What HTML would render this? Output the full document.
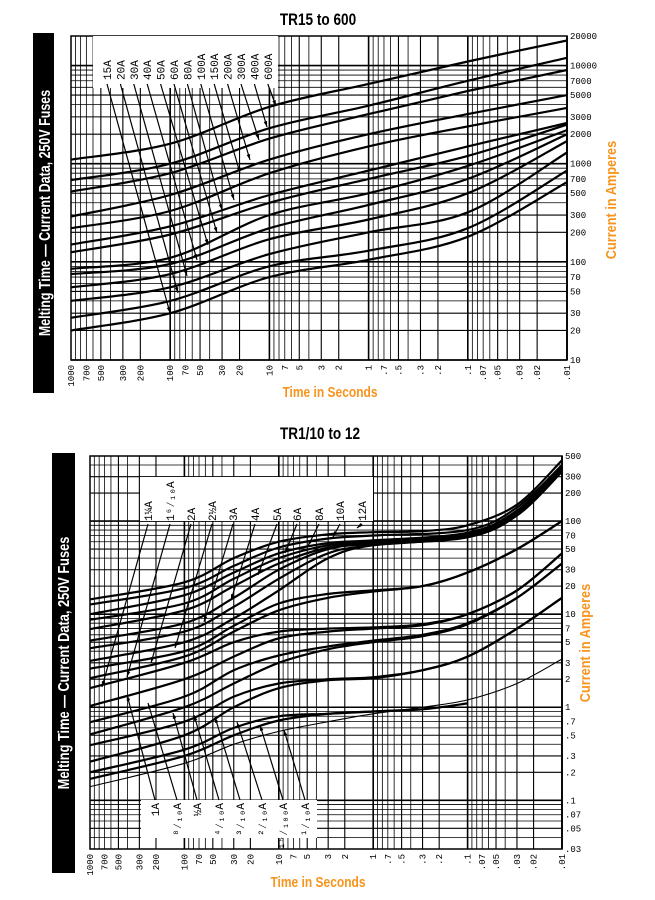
<!DOCTYPE html>
<html><head><meta charset="utf-8">
<style>
html,body{margin:0;padding:0;background:#fff;width:655px;height:900px;overflow:hidden}
svg{display:block}
.t{font-family:"Liberation Mono",monospace;font-size:9px;fill:#000}
.ttl{font-family:"Liberation Sans",sans-serif;font-weight:bold;font-size:17px;fill:#000}
.or{font-family:"Liberation Sans",sans-serif;font-weight:bold;font-size:15px;fill:#f7941d}
.bar{font-family:"Liberation Sans",sans-serif;font-weight:bold;font-size:16px;fill:#fff}
.lb{font-family:"Liberation Mono",monospace;font-size:11px;fill:#000}
</style></head>
<body>
<svg id="s" width="655" height="900" viewBox="0 0 655 900" xmlns="http://www.w3.org/2000/svg">
<text class="ttl" transform="translate(318 25) scale(0.8 1)" text-anchor="middle">TR15 to 600</text>
<rect x="33" y="33" width="21" height="360" fill="#000"/>
<text class="bar" transform="translate(50 213) rotate(-90) scale(0.78 1)" text-anchor="middle">Melting Time — Current Data, 250V Fuses</text>
<text class="or" transform="translate(330 397) scale(0.8 1)" text-anchor="middle">Time in Seconds</text>
<text class="or" transform="translate(616 200) rotate(-90) scale(0.85 1)" text-anchor="middle">Current in Amperes</text>

<text class="ttl" transform="translate(320 439) scale(0.8 1)" text-anchor="middle">TR1/10 to 12</text>
<rect x="52" y="453" width="23" height="420" fill="#000"/>
<text class="bar" transform="translate(69 663) rotate(-90) scale(0.8 1)" text-anchor="middle">Melting Time — Current Data, 250V Fuses</text>
<text class="or" transform="translate(318 887) scale(0.8 1)" text-anchor="middle">Time in Seconds</text>
<text class="or" transform="translate(590 643) rotate(-90) scale(0.85 1)" text-anchor="middle">Current in Amperes</text>
<g id="g"></g>
</svg>
<script>
(function(){
var NS="http://www.w3.org/2000/svg",G=document.getElementById("g");
function el(n,a,txt){var e=document.createElementNS(NS,n);for(var k in a)e.setAttribute(k,a[k]);if(txt!=null)e.textContent=txt;G.appendChild(e);return e;}
function L(v){return Math.log(v)/Math.LN10;}
function chart(c){
  var X=function(t){return c.x0+(3-L(t))*(c.x1-c.x0)/5;};
  var Y=function(i){return c.y0+(L(c.imax)-L(i))*(c.y1-c.y0)/(L(c.imax)-L(c.imin));};
  for(var d=-2;d<3;d++)for(var m=1;m<10;m++){var t=m*Math.pow(10,d);var x=X(t);
    el("line",{x1:x,y1:c.y0,x2:x,y2:c.y1,stroke:"#000","stroke-width":(m==1?1.6:m==2||m==3||m==5?1.1:0.8)});}
  el("line",{x1:X(0.01),y1:c.y0,x2:X(0.01),y2:c.y1,stroke:"#000","stroke-width":1.6});
  var lo=Math.floor(L(c.imin)),hi=Math.ceil(L(c.imax));
  for(var d2=lo;d2<=hi;d2++)for(var m2=1;m2<10;m2++){var v=m2*Math.pow(10,d2);if(v<c.imin*0.999||v>c.imax*1.001)continue;var y=Y(v);
    el("line",{x1:c.x0,y1:y,x2:c.x1,y2:y,stroke:"#000","stroke-width":(m2==1?1.6:m2==2||m2==3||m2==5?1.1:0.8)});}
  el("rect",{x:c.x0,y:c.y0,width:c.x1-c.x0,height:c.y1-c.y0,fill:"none",stroke:"#000","stroke-width":1.5});
  var tl=["1000","700","500","300","200","100","70","50","30","20","10","7","5","3","2","1",".7",".5",".3",".2",".1",".07",".05",".03",".02",".01"];
  tl.forEach(function(s){var x=X(parseFloat(s));el("text",{"class":"t",transform:"translate("+(x+3)+" "+(c.y1+5)+") rotate(-90)","text-anchor":"end"},s);});
  c.ilab.forEach(function(s){el("text",{"class":"t",x:c.x1+3,y:Y(parseFloat(s))+3},s);});
  c.boxes.forEach(function(b){el("rect",{x:b[0],y:b[1],width:b[2],height:b[3],fill:"#fff"});});
  c.curves.forEach(function(cv){
    var p=cv.pts.map(function(q){return [X(q[0]),Y(q[1])];});
    var d="M"+p[0][0].toFixed(1)+" "+p[0][1].toFixed(1);
    for(var i=0;i<p.length-1;i++){var p0=p[i-1]||p[i],p1=p[i],p2=p[i+1],p3=p[i+2]||p2;
      var c1=[p1[0]+(p2[0]-p0[0])/6,p1[1]+(p2[1]-p0[1])/6],c2=[p2[0]-(p3[0]-p1[0])/6,p2[1]-(p3[1]-p1[1])/6];
      d+=" C"+c1[0].toFixed(1)+" "+c1[1].toFixed(1)+" "+c2[0].toFixed(1)+" "+c2[1].toFixed(1)+" "+p2[0].toFixed(1)+" "+p2[1].toFixed(1);}
    el("path",{d:d,fill:"none",stroke:"#000","stroke-width":cv.w||2.2});
  });
  c.labels.forEach(function(l){
    el("text",{"class":"lb",transform:"translate("+(l.x+4)+" "+l.y+") rotate(-90)","text-anchor":l.a||"start"},l.s);
    el("line",{x1:l.x,y1:l.ly,x2:l.tx,y2:l.ty,stroke:"#000","stroke-width":1.2});
    var a=Math.atan2(l.ty-l.ly,l.tx-l.x),s=6;
    el("path",{d:"M"+l.tx+" "+l.ty+" L"+(l.tx-s*Math.cos(a-0.3))+" "+(l.ty-s*Math.sin(a-0.3))+" L"+(l.tx-s*Math.cos(a+0.3))+" "+(l.ty-s*Math.sin(a+0.3))+"Z",fill:"#000"});
  });
}
var T=[1000,100,10,1,0.1,0.01];
function row(v){return v.map(function(x,i){return [T[i],x];});}
var topc=[[1100,1600,3800,6500,11000,18000],[680,1000,2300,3900,7000,12000],[520,800,1800,3200,5500,9000],
[290,480,1100,2000,3200,5000],[220,330,800,1500,2400,3700],[150,230,480,850,1500,2600],[125,190,400,700,1200,2500],
[85,110,300,500,950,2200],[75,95,220,380,700,2000],[55,75,170,270,500,1700],[40,55,120,200,320,1300],[27,40,90,130,220,850],[20,30,70,105,180,650]];
var tnames=["15A","20A","30A","40A","50A","60A","80A","100A","150A","200A","300A","400A","600A"];
var ttg=[[170,313],[178,293],[187,276],[197,260],[208,245],[217,233],[222,210],[234,200],[240,173],[250,160],[259,140],[267,127],[276,106]];
chart({x0:71,x1:567,y0:36,y1:360,imin:10,imax:20000,
 ilab:["20000","10000","7000","5000","3000","2000","1000","700","500","300","200","100","70","50","30","20","10"],
 boxes:[[93,36,185,52]],
 curves:topc.map(function(v){return {pts:row(v)};}),
 labels:tnames.map(function(s,i){var x=107+i*13.4;return {s:s,x:x,y:80,a:"start",ly:84,tx:ttg[i][0],ty:ttg[i][1]};})
});
var bc=[
[[1000,14.4],[100,22],[30,40],[10,60],[3,72],[1,76],[0.3,78],[0.1,90],[0.03,150],[0.01,450]],
[[1000,12.7],[100,19],[30,33],[10,52],[3,65],[1,70],[0.1,80],[0.03,140],[0.01,400]],
[[1000,10],[100,16],[30,28],[10,45],[3,58],[1,62],[0.1,75],[0.03,130],[0.01,380]],
[[1000,8.7],[100,13],[30,24],[10,40],[3,55],[1,60],[0.1,72],[0.03,125],[0.01,370]],
[[1000,6.9],[100,11],[30,20],[10,35],[3,52],[1,58],[0.1,70],[0.03,120],[0.01,360]],
[[1000,5.2],[100,8],[30,15],[10,30],[3,50],[1,57],[0.1,68],[0.03,118],[0.01,350]],
[[1000,4.3],[100,6.5],[30,12],[10,24],[3,45],[1,55],[0.1,68],[0.03,115],[0.01,340]],
[[1000,3.15],[100,5],[30,9],[10,18],[3,40],[1,55],[0.1,67],[0.03,115],[0.01,340]],
[[1000,2.6],[100,4],[30,7.5],[10,13],[3,16.5],[1,18],[0.3,20],[0.1,28],[0.03,50],[0.01,100]],
[[1000,2.05],[100,3.5],[30,6.5],[10,11],[3,15],[1,17.5],[0.3,20],[0.1,28],[0.03,50],[0.01,100]],
[[1000,1.6],[100,3],[30,5],[10,6.5],[3,7],[1,7.2],[0.3,7.8],[0.1,10],[0.03,18],[0.01,45]],
[[1000,1.03],[100,2],[30,3.5],[10,5.5],[3,6.5],[1,7],[0.3,7.6],[0.1,10],[0.03,18],[0.01,45]],
[[1000,0.69],[100,1.3],[30,2.5],[10,3.6],[3,4.5],[1,5.2],[0.3,6],[0.1,8],[0.03,15],[0.01,35]],
[[1000,0.51],[100,1],[30,1.8],[10,3],[3,4.2],[1,5],[0.3,5.8],[0.1,7.8],[0.03,15],[0.01,35]],
[[1000,0.39],[100,0.7],[30,1.3],[10,1.8],[3,2],[1,2.1],[0.3,2.5],[0.1,3.5],[0.03,7],[0.01,15]],
[[1000,0.26],[100,0.5],[30,1],[10,1.6],[3,1.95],[1,2.05],[0.3,2.5],[0.1,3.5],[0.03,7],[0.01,15]],
[[1000,0.2],[100,0.35],[30,0.6],[10,0.8],[3,0.85],[1,0.9],[0.3,0.95]],
[[1000,0.17],[100,0.3],[30,0.5],[10,0.72],[3,0.85],[1,0.9],[0.3,0.95],[0.1,1.1]]
];
var bcurves=bc.map(function(p){return {pts:p};});
bcurves.push({pts:[[1000,0.14],[100,0.25],[30,0.4],[10,0.55],[3,0.7],[1,0.85],[0.3,1.0],[0.1,1.2],[0.03,1.8],[0.01,3.3]],w:1.1});
var tl=["1¼A","1⁶⁄₁₀A","2A","2½A","3A","4A","5A","6A","8A","10A","12A"];
var tlx=[148,170,191,212,233,255,277,297,319,340,362];
var tlt=[[102,687],[127,677],[151,663],[175,648],[204,622],[231,600],[258,575],[285,553],[308,546],[333,537],[357,528]];
var bl=["1A","⁸⁄₁₀A","½A","⁴⁄₁₀A","³⁄₁₀A","²⁄₁₀A","¹⁵⁄₁₀₀A","¹⁄₁₀A"];
var blx=[155,177,197,219,240,262,283,305];
var blt=[[127,695],[148,703],[173,713],[194,715],[215,717],[237,722],[260,725],[284,730]];
var labs=[];
tl.forEach(function(s,i){labs.push({s:s,x:tlx[i],y:521,a:"start",ly:524,tx:tlt[i][0],ty:tlt[i][1]});});
bl.forEach(function(s,i){labs.push({s:s,x:blx[i],y:803,a:"end",ly:800,tx:blt[i][0],ty:blt[i][1]});});
chart({x0:90,x1:562,y0:456,y1:849,imin:0.03,imax:500,
 ilab:["500","300","200","100","70","50","30","20","10","7","5","3","2","1",".7",".5",".3",".2",".1",".07",".05",".03"],
 boxes:[[140,477,233,44],[141,800,176,38]],
 curves:bcurves,labels:labs});
})();
</script>
</body></html>
